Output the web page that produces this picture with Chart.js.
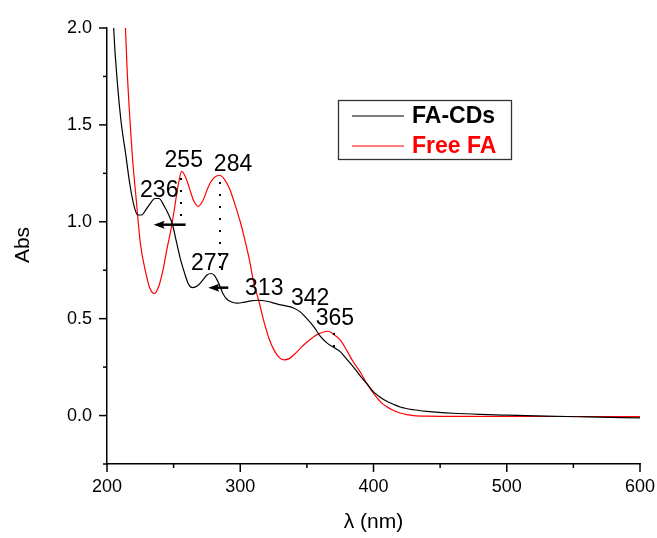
<!DOCTYPE html>
<html>
<head>
<meta charset="utf-8">
<script src="https://cdn.jsdelivr.net/npm/chart.js@4/dist/chart.umd.min.js"></script>
<style>
html,body{margin:0;padding:0;background:#fff;}
#wrap{width:657px;height:538px;position:relative;}
</style>
</head>
<body>
<div id="wrap"><canvas id="c" width="657" height="538"></canvas></div>
<script>
// ---- data ----
const seriesNames = ["FA-CDs", "Free FA"];
const cdsX = [203,205,208,210.5,214,217,220,223,226,229,232,236,239,243,246,249,252,255,258,261,264,268,272,275,278,281,284,287,290,294,298,303,308,313,320,328,335,340,345,350,355,360,365,370,375,380,385,390,395,400,405,410,415,420,430,440,460,480,500,530,560,600];
const cdsY = [2.4,2.0,1.70,1.52,1.35,1.2,1.09,1.035,1.035,1.06,1.09,1.12,1.12,1.08,1.04,0.99,0.9,0.81,0.74,0.68,0.66,0.67,0.70,0.725,0.733,0.72,0.68,0.63,0.60,0.585,0.58,0.585,0.592,0.595,0.59,0.575,0.565,0.555,0.535,0.50,0.46,0.41,0.375,0.352,0.33,0.29,0.25,0.205,0.165,0.122,0.095,0.074,0.058,0.044,0.03,0.022,0.012,0.006,0.002,-0.003,-0.007,-0.012];
const faX = [211,213,215,217,219,222,225,229,232,235.5,239,242,245,248,250,252,254,256,259,262,265,268.5,272,276,280,284.5,288,292,296,300,303,307,310,314,318,322,326,330,333,337,342,347,352,357,362,366,370,375,380,385,390,395,400,405,410,415,420,425,430,440,460,500,550,600];
const faY = [2.5,2.15,1.8,1.55,1.34,1.11,0.89,0.74,0.66,0.63,0.67,0.75,0.86,0.96,1.04,1.13,1.21,1.26,1.23,1.17,1.11,1.08,1.11,1.18,1.225,1.24,1.22,1.17,1.09,1.0,0.92,0.80,0.69,0.59,0.48,0.39,0.33,0.295,0.287,0.295,0.325,0.36,0.39,0.415,0.43,0.435,0.42,0.39,0.335,0.275,0.225,0.165,0.115,0.072,0.045,0.026,0.013,0.005,0.0,-0.003,-0.004,-0.005,-0.005,-0.005];
const xTicks = [200,300,400,500,600];
const yTicks = [0.0,0.5,1.0,1.5,2.0];
// peak annotations: [label, x, y]
const peakLabels = [["236",239.2,1.163],["255",257.6,1.318],["284",294.6,1.297],["277",277.5,0.785],["313",318.0,0.653],["342",352.5,0.601],["365",371.0,0.498]];
// dotted guide lines: [x, yFrom, yTo]
const dotLines = [[255.5,1.22,1.01],[284.6,1.20,0.72],[370.5,0.42,0.35]];
// arrows: [xTail, xTip, y]
const arrows = [[259,235,0.985],[291,276,0.66]];

const pts = (xs, ys) => xs.map((x, i) => ({x: x, y: ys[i]}));

const FONT = "Arial, 'Liberation Sans', sans-serif";

const overlay = {
  id: 'overlay',
  afterDraw(chart) {
    const ctx = chart.ctx, xs = chart.scales.x, ys = chart.scales.y;
    const area = chart.chartArea;
    ctx.save();
    ctx.strokeStyle = '#000';
    ctx.lineWidth = 1.5;
    // tick marks
    for (let v = 200; v <= 600; v += 50) {
      const px = xs.getPixelForValue(v);
      const len = (v % 100 === 0) ? 8 : 4;
      ctx.beginPath(); ctx.moveTo(px, area.bottom); ctx.lineTo(px, area.bottom + len); ctx.stroke();
    }
    for (let k = -1; k <= 8; k++) {
      const v = k * 0.25;
      const py = ys.getPixelForValue(v);
      const len = (k % 2 === 0) ? 8 : 4;
      ctx.beginPath(); ctx.moveTo(area.left, py); ctx.lineTo(area.left - len, py); ctx.stroke();
    }
    // axis titles
    ctx.fillStyle = '#000';
    ctx.font = '21px ' + FONT;
    ctx.textAlign = 'center'; ctx.textBaseline = 'middle';
    ctx.fillText('λ (nm)', (area.left + area.right) / 2, 522);
    ctx.save();
    ctx.translate(23, 245);
    ctx.rotate(-Math.PI / 2);
    ctx.fillText('Abs', 0, 0);
    ctx.restore();

    // peak labels
    ctx.font = '23px ' + FONT;
    peakLabels.forEach(p => {
      ctx.fillText(p[0], xs.getPixelForValue(p[1]), ys.getPixelForValue(p[2]));
    });
    // dotted lines
    ctx.fillStyle = '#000';
    dotLines.forEach(d => {
      const px = xs.getPixelForValue(d[0]);
      const y0 = ys.getPixelForValue(d[1]), y1 = ys.getPixelForValue(d[2]);
      for (let y = y0; y <= y1 + 0.5; y += 12) {
        ctx.fillRect(Math.round(px) - 1, Math.round(y) - 1, 2, 2);
      }
    });
    // arrows
    arrows.forEach(a => {
      const xt = xs.getPixelForValue(a[0]), xp = xs.getPixelForValue(a[1]), py = ys.getPixelForValue(a[2]);
      ctx.lineWidth = 2.5;
      ctx.beginPath(); ctx.moveTo(xt, py); ctx.lineTo(xp + 8, py); ctx.stroke();
      ctx.beginPath();
      ctx.moveTo(xp, py); ctx.lineTo(xp + 11, py - 4); ctx.lineTo(xp + 9, py); ctx.lineTo(xp + 11, py + 4);
      ctx.closePath(); ctx.fill();
    });

    // legend
    ctx.lineWidth = 1.3;
    ctx.strokeStyle = '#333';
    ctx.strokeRect(338.5, 100.5, 173, 59);
    const cols = ['#000000', '#ff0000'];
    ctx.font = 'bold 23px ' + FONT;
    ctx.textAlign = 'left';
    seriesNames.forEach((n, i) => {
      const y = 116 + i * 30;
      ctx.strokeStyle = cols[i];
      ctx.lineWidth = 1.2;
      ctx.beginPath(); ctx.moveTo(352, y); ctx.lineTo(404, y); ctx.stroke();
      ctx.fillStyle = cols[i];
      ctx.fillText(n, 412, y + 1);
    });
    ctx.restore();
  }
};

new Chart(document.getElementById('c'), {
  type: 'line',
  data: {
    datasets: [
      {label: seriesNames[0], data: pts(cdsX, cdsY), borderColor: '#000000', borderWidth: 1.2, pointRadius: 0, cubicInterpolationMode: 'monotone', fill: false},
      {label: seriesNames[1], data: pts(faX, faY), borderColor: '#ff0000', borderWidth: 1.2, pointRadius: 0, cubicInterpolationMode: 'monotone', fill: false}
    ]
  },
  options: {
    responsive: false,
    animation: false,
    events: [],
    layout: {padding: {top: 28, right: 17, left: 0, bottom: 0}},
    plugins: {legend: {display: false}, tooltip: {enabled: false}},
    scales: {
      x: {
        type: 'linear', min: 200, max: 600,
        afterFit: s => { s.height = 74; s.paddingLeft = 0; s.paddingRight = 0; },
        afterBuildTicks: s => { s.ticks = xTicks.map(v => ({value: v})); },
        ticks: {padding: 4, color: '#000', font: {size: 18, family: FONT}, maxRotation: 0, callback: v => String(v)},
        grid: {display: false},
        border: {display: true, color: '#000', width: 1.5}
      },
      y: {
        type: 'linear', min: -0.25, max: 2.0,
        afterFit: s => { s.width = 107; s.paddingTop = 0; s.paddingBottom = 0; },
        afterBuildTicks: s => { s.ticks = yTicks.map(v => ({value: v})); },
        ticks: {padding: 7, color: '#000', font: {size: 18, family: FONT}, callback: v => Number(v).toFixed(1)},
        grid: {display: false},
        border: {display: true, color: '#000', width: 1.5}
      }
    }
  },
  plugins: [overlay]
});
</script>
</body>
</html>
